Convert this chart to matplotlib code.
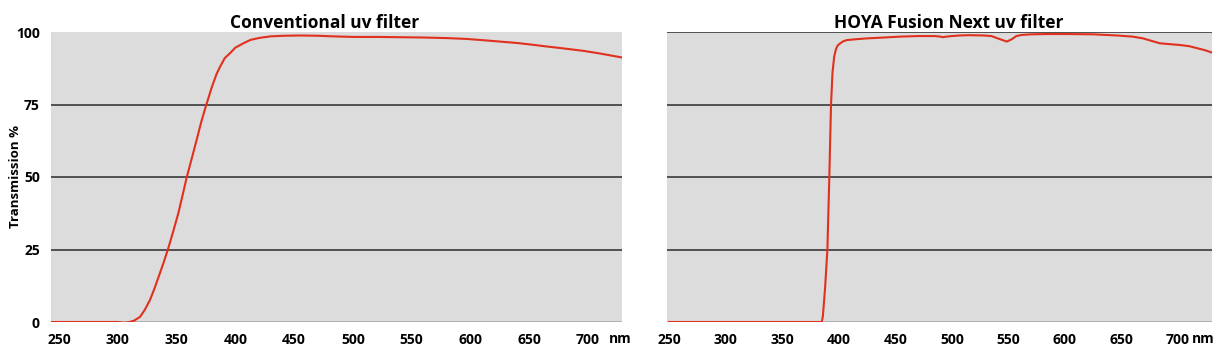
import matplotlib

matplotlib.use("Agg")

import matplotlib.pyplot as plt
import matplotlib.transforms as mtransforms

plt.rcParams["font.family"] = ["Open Sans", "DejaVu Sans"]
plt.rcParams["font.weight"] = "bold"

# --- data ------------------------------------------------------------------
wl_conv = [243, 280, 300, 306, 310, 314, 319, 323, 327.4, 331, 334.5, 339,
           343, 347, 351.5, 355, 358.6, 363, 367.1, 371, 375, 380, 384, 387,
           391, 395.5, 400, 406.8, 413, 421, 430, 441, 455, 470, 483, 500,
           520, 540, 560, 580, 597, 610, 625, 640, 653, 665, 680, 696, 710,
           729]
t_conv = [0, 0, 0, -0.3, 0, 0.5, 1.8, 4.2, 7.6, 11.3, 15.3, 20.5,
          25.5, 31, 37.5, 43.5, 49.8, 56.5, 62.8, 69, 74.5, 81, 85.5, 88,
          91, 92.7, 94.6, 96.1, 97.3, 98.0, 98.5, 98.7, 98.8, 98.7, 98.5, 98.3,
          98.3, 98.2, 98.1, 97.9, 97.6, 97.2, 96.7, 96.2, 95.6, 95.0, 94.3,
          93.5, 92.6, 91.2]

wl_fusion = [250, 300, 350, 380, 385, 386, 388, 390, 391.7, 393.2, 394.5,
             396, 397.5, 399, 401, 404, 407, 415, 425, 440, 454, 470, 485,
             490, 492, 495, 500, 507, 515, 528, 535, 542, 548.6, 553, 557,
             562, 570, 585, 602, 625, 646, 660, 669, 676, 684, 693, 702, 710,
             717, 724, 730]
t_fusion = [0, 0, 0, 0, 0, 2, 12, 25, 50, 75, 86,
            91.5, 94, 95.3, 96, 96.8, 97.2, 97.5, 97.8, 98.1, 98.4, 98.6, 98.6,
            98.4, 98.2, 98.4, 98.6, 98.8, 98.9, 98.8, 98.6, 97.6, 96.7, 97.5,
            98.6, 99.0, 99.2, 99.3, 99.3, 99.2, 98.8, 98.4, 97.8, 97.0, 96.1,
            95.8, 95.5, 95.1, 94.4, 93.7, 92.9]

x_ticks = [250, 300, 350, 400, 450, 500, 550, 600, 650, 700]
y_ticks = [0, 25, 50, 75, 100]
titles = ["Conventional uv filter", "HOYA Fusion Next uv filter"]

BG = "#dcdcdc"
RED = "#e0301e"
GRID = "#2b2b2b"

fig = plt.figure(figsize=(12.22, 3.64), dpi=100)
ax1 = fig.add_axes([51 / 1222, 42 / 364, 571 / 1222, 290 / 364])
ax2 = fig.add_axes([667 / 1222, 42 / 364, 545 / 1222, 290 / 364])

panels = [
    (ax1, wl_conv, t_conv, (243.2, 728.9), [25, 50, 75], titles[0], 0.48, 727),
    (ax2, wl_fusion, t_fusion, (248.2, 730), [25, 50, 75, 100], titles[1], 0.517, 722.5),
]

for ax, wl, t, xlim, grid_vals, title, tx, nm_x in panels:
    ax.set_facecolor(BG)
    for v in grid_vals:
        ax.axhline(v, color=GRID, lw=1.1, zorder=1)
    ax.axhline(0, color="#a8a8a8", lw=1.2, zorder=1)
    ax.plot(wl, t, color=RED, lw=1.5, zorder=3, solid_joinstyle="round")
    ax.set_xlim(*xlim)
    ax.set_ylim(0, 100)
    for s in ax.spines.values():
        s.set_visible(False)
    ax.set_xticks(x_ticks)
    ax.tick_params(axis="x", length=0, pad=8, labelsize=10)
    ax.set_title(title, fontsize=12.5, fontweight="bold", x=tx, pad=3)
    trans = mtransforms.blended_transform_factory(ax.transData, ax.transAxes)
    ax.text(nm_x, -0.0724, "nm", transform=trans, ha="center", va="baseline",
            fontsize=10, fontweight="bold", clip_on=False)

ax1.set_yticks(y_ticks)
ax1.tick_params(axis="y", length=0, pad=8, labelsize=10)
ax1.set_ylabel("Transmission %", fontsize=9.5, fontweight="bold")
ax1.yaxis.set_label_coords(-0.05, 0.5)
ax2.set_yticks([])

fig.savefig("out.png", dpi=100)
